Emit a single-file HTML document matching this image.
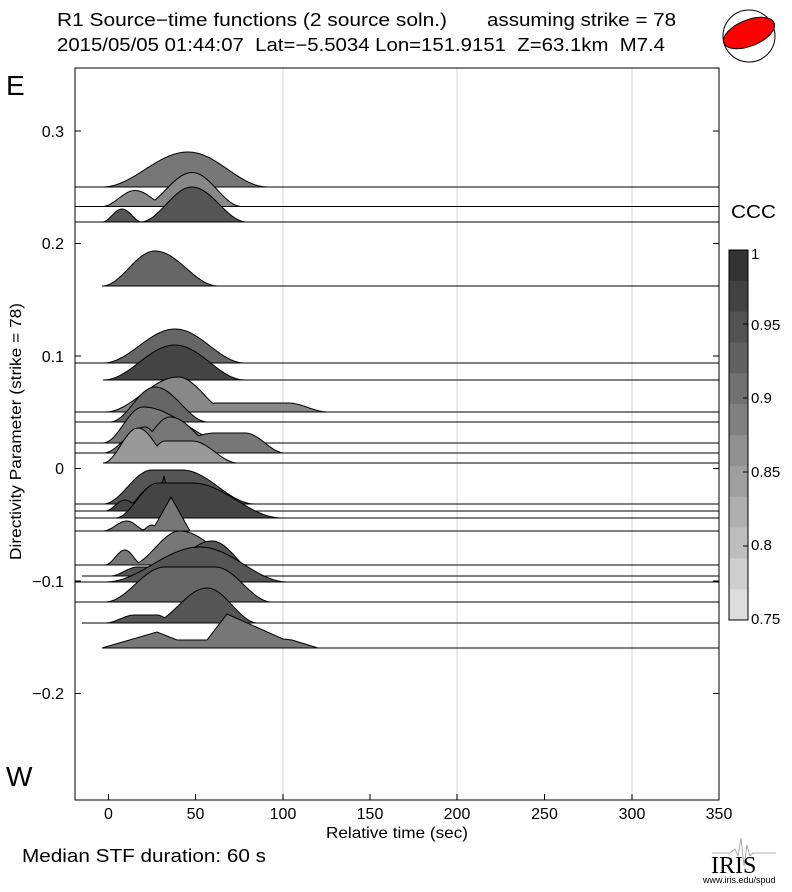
<!DOCTYPE html>
<html><head><meta charset="utf-8"><style>
body{margin:0;background:#fff;}
svg text{font-family:"Liberation Sans",sans-serif;fill:#000;white-space:pre;}
</style></head><body>
<svg id="s" width="792" height="887" viewBox="0 0 792 887" xmlns="http://www.w3.org/2000/svg">
<rect width="792" height="887" fill="#fff"/>
<g stroke="#e4e4e4" stroke-width="1.5">
<line x1="283" y1="68" x2="283" y2="800"/><line x1="457" y1="68" x2="457" y2="800"/><line x1="632" y1="68" x2="632" y2="800"/>
</g>
<g id="tr"></g>
<rect x="75" y="68" width="644" height="732" fill="none" stroke="#000" stroke-width="1"/>
<g stroke="#000" stroke-width="1">
<line x1="75" y1="131" x2="81" y2="131"/><line x1="75" y1="243.5" x2="81" y2="243.5"/><line x1="75" y1="356" x2="81" y2="356"/><line x1="75" y1="468.5" x2="81" y2="468.5"/><line x1="75" y1="581" x2="81" y2="581"/><line x1="75" y1="693.5" x2="81" y2="693.5"/>
<line x1="713" y1="131" x2="719" y2="131"/><line x1="713" y1="243.5" x2="719" y2="243.5"/><line x1="713" y1="356" x2="719" y2="356"/><line x1="713" y1="468.5" x2="719" y2="468.5"/><line x1="713" y1="581" x2="719" y2="581"/><line x1="713" y1="693.5" x2="719" y2="693.5"/>
<line x1="108.5" y1="794" x2="108.5" y2="800"/><line x1="195.5" y1="794" x2="195.5" y2="800"/><line x1="283" y1="794" x2="283" y2="800"/><line x1="370" y1="794" x2="370" y2="800"/><line x1="457" y1="794" x2="457" y2="800"/><line x1="544.5" y1="794" x2="544.5" y2="800"/><line x1="632" y1="794" x2="632" y2="800"/>
</g>
<g font-size="16" text-anchor="end">
<text x="64" y="137">0.3</text><text x="64" y="249">0.2</text><text x="64" y="362">0.1</text><text x="64" y="474">0</text><text x="64" y="587">−0.1</text><text x="64" y="699">−0.2</text>
</g>
<g font-size="16" text-anchor="middle">
<text x="108.5" y="819">0</text><text x="195.5" y="819">50</text><text x="283" y="819">100</text><text x="370" y="819">150</text><text x="457" y="819">200</text><text x="544.5" y="819">250</text><text x="632" y="819">300</text><text x="719" y="819">350</text>
</g>
<text x="326" y="838" font-size="16" textLength="142" lengthAdjust="spacingAndGlyphs">Relative time (sec)</text>
<text x="21" y="560" font-size="16" textLength="257" lengthAdjust="spacingAndGlyphs" transform="rotate(-90 21 560)">Directivity Parameter (strike = 78)</text>
<text x="57" y="26" font-size="18" textLength="390" lengthAdjust="spacingAndGlyphs">R1 Source−time functions (2 source soln.)</text>
<text x="487" y="26" font-size="18" textLength="189" lengthAdjust="spacingAndGlyphs">assuming strike = 78</text>
<text x="57" y="51" font-size="18" textLength="608" lengthAdjust="spacingAndGlyphs">2015/05/05 01:44:07  Lat=−5.5034 Lon=151.9151  Z=63.1km  M7.4</text>
<text x="6" y="95" font-size="28">E</text>
<text x="6" y="786" font-size="28">W</text>
<text x="22" y="862" font-size="18" textLength="244" lengthAdjust="spacingAndGlyphs">Median STF duration: 60 s</text>
<circle cx="749" cy="36" r="26" fill="#fff" stroke="#000" stroke-width="1"/>
<ellipse cx="749" cy="33" rx="27" ry="13" transform="rotate(-22 749 33)" fill="#f00" stroke="#000" stroke-width="1"/>
<text x="731" y="218" font-size="18" textLength="45" lengthAdjust="spacingAndGlyphs">CCC</text>
<g id="cb"></g>
<rect x="729" y="250" width="19" height="370" fill="none" stroke="#000"/>
<g font-size="15">
<text x="751" y="259">1</text><text x="751" y="330">0.95</text><text x="751" y="403">0.9</text><text x="751" y="477">0.85</text><text x="751" y="550">0.8</text><text x="751" y="624">0.75</text>
</g>
<g stroke="#000"><line x1="743" y1="324" x2="748" y2="324"/><line x1="743" y1="398" x2="748" y2="398"/><line x1="743" y1="472" x2="748" y2="472"/><line x1="743" y1="546" x2="748" y2="546"/></g>
<path d="M712,853 L730,853 L735,849 L738,856 L741,838 L744,866 L747,845 L750,856 L753,853 L776,853" fill="none" stroke="#999" stroke-width="0.8"/>
<text x="711" y="873" font-size="24" style="font-family:'Liberation Serif',serif">IRIS</text>
<text x="703" y="883" font-size="9">www.iris.edu/spud</text>
</svg>
<script>
var NS="http://www.w3.org/2000/svg";
var cb=document.getElementById('cb');
for(var i=0;i<12;i++){var r=document.createElementNS(NS,'rect');var v=Math.round(0x33+(0xdd-0x33)*i/11);r.setAttribute('x',729);r.setAttribute('y',250+i*370/12);r.setAttribute('width',19);r.setAttribute('height',370/12+0.5);r.setAttribute('fill','rgb('+v+','+v+','+v+')');cb.appendChild(r);}
function bell(b,x){var x0=b[0],xa=b[1],xb=b[2],x1=b[3],h=b[4],lin=b[5];
 if(x<=x0||x>=x1)return 0; if(x>=xa&&x<=xb)return h;
 var t=x<xa?(x-x0)/(xa-x0):(x1-x)/(x1-xb);
 return lin?h*t:h*(0.5-0.5*Math.cos(Math.PI*t));}
var T=[
[187,'#777',75,[[102,188,188,268,35]]],
[206.5,'#888',75,[[102,135,135,170,16],[140,192,192,242,34]]],
[222,'#555',75,[[102,122,122,142,13],[140,192,192,247,35]]],
[286,'#666',102,[[102,155,155,218,35]]],
[363,'#666',75,[[103,175,175,245,34]]],
[380,'#444',103,[[103,175,175,245,35]]],
[412,'#888',75,[[105,178,178,230,35],[200,215,288,328,9]]],
[422,'#666',75,[[110,155,155,208,35]]],
[443,'#777',75,[[103,143,143,230,36]]],
[453,'#777',75,[[103,145,145,170,26],[130,170,170,225,36],[150,215,245,285,20]]],
[463,'#999',103,[[103,138,138,175,35],[140,165,192,238,22]]],
[504,'#555',75,[[103,152,182,255,34]]],
[511,'#444',75,[[105,125,125,145,11],[120,155,155,200,26],[155,164,164,172,35,1]]],
[518,'#444',75,[[115,158,192,282,35]]],
[531,'#777',75,[[103,127,127,147,10],[140,152,152,160,6],[152,171,171,190,34,1]]],
[565,'#777',75,[[105,125,125,143,15],[130,180,180,248,34]]],
[576,'#555',82,[[110,138,162,180,9],[150,212,212,262,35]]],
[582,'#555',75,[[105,200,200,288,35]]],
[602,'#666',75,[[105,165,215,272,35]]],
[623,'#555',82,[[105,135,157,175,8],[150,207,207,258,35]]],
[648,'#777',102,'U']];
var g=document.getElementById('tr');
T.forEach(function(t){var y=t[0],pts=[];
 if(t[3]==='U'){pts=[[102,648],[157,632],[177,640],[207,640],[227,614],[283,639],[292,640],[318,648]];}
 else{var xs=1e9,xe=0;t[3].forEach(function(b){xs=Math.min(xs,b[0]);xe=Math.max(xe,b[3]);});
  for(var x=xs;x<=xe;x+=1){var h=0;t[3].forEach(function(b){h=Math.max(h,bell(b,x));});pts.push([x,y-h]);}}
 var d='M'+pts.map(function(p){return p[0]+','+p[1].toFixed(1);}).join(' L');
 var f=document.createElementNS(NS,'path');f.setAttribute('d',d+' Z');f.setAttribute('fill',t[1]);g.appendChild(f);
 var o=document.createElementNS(NS,'path');o.setAttribute('d',d);o.setAttribute('fill','none');o.setAttribute('stroke','#000');o.setAttribute('stroke-width','1');g.appendChild(o);
 var l=document.createElementNS(NS,'line');l.setAttribute('x1',t[2]);l.setAttribute('x2',719);l.setAttribute('y1',y);l.setAttribute('y2',y);l.setAttribute('stroke','#000');l.setAttribute('stroke-width','1');g.appendChild(l);
});
</script>
</body></html>
